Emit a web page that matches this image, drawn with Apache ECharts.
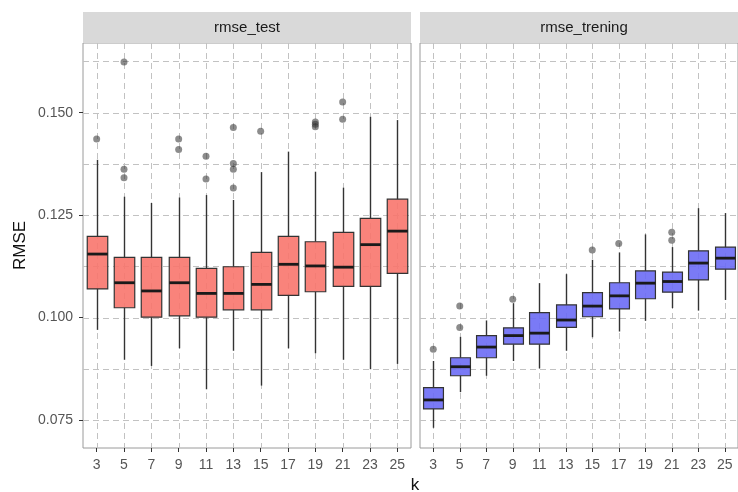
<!DOCTYPE html>
<html>
<head>
<meta charset="utf-8">
<script src="https://cdn.jsdelivr.net/npm/echarts@6/dist/echarts.min.js"></script>
<style>html,body{margin:0;padding:0;background:#fff;}#chart{width:738px;height:492px;}</style>
</head>
<body>
<div id="chart"></div>
<script>
// ---- data ----
const kLabels = ['3','5','7','9','11','13','15','17','19','21','23','25'];
const panelNames = ['rmse_test', 'rmse_trening'];
const yTicks = [0.075, 0.100, 0.125, 0.150];
const yMinorGrid = [0.0875, 0.1125, 0.1375, 0.1625];

const testMin    = [0.0970, 0.0897, 0.0882, 0.0925, 0.0825, 0.0919, 0.0834, 0.0925, 0.0913, 0.0897, 0.0874, 0.0887];
const testQ1     = [0.1070, 0.1024, 0.1001, 0.1004, 0.1001, 0.1019, 0.1019, 0.1054, 0.1063, 0.1076, 0.1076, 0.1108];
const testMedian = [0.1155, 0.1085, 0.1065, 0.1085, 0.1059, 0.1059, 0.1081, 0.1130, 0.1126, 0.1123, 0.1178, 0.1211];
const testQ3     = [0.1198, 0.1147, 0.1147, 0.1147, 0.1120, 0.1124, 0.1159, 0.1198, 0.1185, 0.1208, 0.1242, 0.1289];
const testMax    = [0.1385, 0.1295, 0.1280, 0.1293, 0.1299, 0.1287, 0.1355, 0.1405, 0.1356, 0.1317, 0.1490, 0.1482];
const testOutliers = [
  ['3', 0.1436],
  ['5', 0.1624], ['5', 0.1362], ['5', 0.1341],
  ['9', 0.1436], ['9', 0.1410],
  ['11', 0.1394], ['11', 0.1338],
  ['13', 0.1464], ['13', 0.1376], ['13', 0.1362], ['13', 0.1316],
  ['15', 0.1455],
  ['19', 0.1477], ['19', 0.1472], ['19', 0.1466],
  ['21', 0.1526], ['21', 0.1484]
];

const trenMin    = [0.0731, 0.0818, 0.0858, 0.0894, 0.0876, 0.0919, 0.0952, 0.0966, 0.0992, 0.1023, 0.1017, 0.1043];
const trenQ1     = [0.0777, 0.0858, 0.0902, 0.0935, 0.0935, 0.0976, 0.1002, 0.1021, 0.1046, 0.1062, 0.1092, 0.1118];
const trenMedian = [0.0799, 0.0880, 0.0928, 0.0956, 0.0962, 0.0994, 0.1028, 0.1053, 0.1084, 0.1088, 0.1133, 0.1145];
const trenQ3     = [0.0829, 0.0902, 0.0956, 0.0975, 0.1012, 0.1031, 0.1061, 0.1085, 0.1114, 0.1111, 0.1163, 0.1172];
const trenMax    = [0.0894, 0.0953, 0.0993, 0.1035, 0.1084, 0.1106, 0.1141, 0.1159, 0.1203, 0.1172, 0.1267, 0.1255];
const trenOutliers = [
  ['3', 0.0923],
  ['5', 0.0976], ['5', 0.1028],
  ['9', 0.1045],
  ['15', 0.1165],
  ['17', 0.1181],
  ['21', 0.1208], ['21', 0.1189]
];

// ---- chart ----
const Y_MIN = 0.06817, Y_MAX = 0.16701;
const FONT = '"Liberation Sans", Arial, sans-serif';
const chart = echarts.init(document.getElementById('chart'), null, {renderer: 'canvas'});

function boxData(mn, q1, md, q3, mx) {
  return kLabels.map((k, i) => [i, mn[i], q1[i], md[i], q3[i], mx[i]]);
}
function makeRender(fill) {
  return function (params, api) {
    const i = api.value(0);
    const pMin = api.coord([i, api.value(1)]);
    const pQ1 = api.coord([i, api.value(2)]);
    const pMed = api.coord([i, api.value(3)]);
    const pQ3 = api.coord([i, api.value(4)]);
    const pMax = api.coord([i, api.value(5)]);
    const bw = api.size([1, 0])[0] * 0.75;
    const x = Math.round(pMed[0]) + 0.5;
    const ws = {stroke: '#333333', lineWidth: 1.4, fill: null};
    return {
      type: 'group',
      children: [
        {type: 'line', shape: {x1: x, y1: pMax[1], x2: x, y2: pQ3[1]}, style: ws},
        {type: 'line', shape: {x1: x, y1: pQ1[1], x2: x, y2: pMin[1]}, style: ws},
        {type: 'rect', shape: {x: x - bw / 2, y: pQ3[1], width: bw, height: pQ1[1] - pQ3[1]},
          style: {fill: fill, stroke: '#333333', lineWidth: 1.2}},
        {type: 'line', shape: {x1: x - bw / 2, y1: pMed[1], x2: x + bw / 2, y2: pMed[1]},
          style: {stroke: '#1a1a1a', lineWidth: 2.8, fill: null}}
      ]
    };
  };
}
// panel grid lines (major + minor horizontal, one vertical per category), drawn via the axes' scales
function renderGrid(params, api) {
  const cs = params.coordSys;
  const children = [];
  const st = {stroke: '#c2c2c2', lineWidth: 1, lineDash: [6, 4], fill: null};
  yTicks.concat(yMinorGrid).forEach(v => {
    const y = Math.round(api.coord([0, v])[1]) + 0.5;
    children.push({type: 'line', shape: {x1: cs.x, y1: y, x2: cs.x + cs.width, y2: y}, style: st});
  });
  kLabels.forEach((k, i) => {
    const x = Math.round(api.coord([i, Y_MIN])[0]) + 0.5;
    children.push({type: 'line', shape: {x1: x, y1: cs.y, x2: x, y2: cs.y + cs.height}, style: st});
  });
  return {type: 'group', children: children};
}

const grids = [
  {left: 83, top: 43, width: 328, height: 405, show: true, borderColor: '#9a9a9a', borderWidth: 1, backgroundColor: '#fff'},
  {left: 420, top: 43, width: 328, height: 405, show: true, borderColor: '#9a9a9a', borderWidth: 1, backgroundColor: '#fff'}
];

function xAxisFor(gi) {
  return {
    type: 'category', gridIndex: gi, data: kLabels, boundaryGap: true,
    axisLine: {show: false},
    axisTick: {show: true, alignWithLabel: true, length: 4, lineStyle: {color: '#333333'}},
    axisLabel: {color: '#555555', fontSize: 14, fontFamily: FONT, margin: 10, interval: 0},
    splitLine: {show: false}
  };
}
const yAxes = [
  {
    type: 'value', gridIndex: 0, min: Y_MIN, max: Y_MAX,
    name: 'RMSE', nameLocation: 'middle', nameGap: 54,
    nameTextStyle: {color: '#111', fontSize: 17, fontFamily: FONT},
    axisLine: {show: false},
    axisTick: {show: true, length: 4, lineStyle: {color: '#333333'}, customValues: yTicks},
    axisLabel: {color: '#555555', fontSize: 14, fontFamily: FONT, margin: 10,
      customValues: yTicks, formatter: v => Number(v).toFixed(3)},
    splitLine: {show: false}, minorSplitLine: {show: false}
  },
  {
    type: 'value', gridIndex: 1, min: Y_MIN, max: Y_MAX,
    axisLine: {show: false}, axisTick: {show: false}, axisLabel: {show: false},
    splitLine: {show: false}, minorSplitLine: {show: false}
  }
];

const series = [
  {type: 'custom', xAxisIndex: 0, yAxisIndex: 0, z: 1, silent: true, renderItem: renderGrid,
    encode: {x: 0, y: 1}, data: [[0, Y_MIN]]},
  {type: 'custom', xAxisIndex: 1, yAxisIndex: 1, z: 1, silent: true, renderItem: renderGrid,
    encode: {x: 0, y: 1}, data: [[0, Y_MIN]]},
  {type: 'custom', name: panelNames[0], xAxisIndex: 0, yAxisIndex: 0, z: 3,
    renderItem: makeRender('rgba(248,118,109,0.9)'),
    encode: {x: 0, y: [1, 2, 3, 4, 5]},
    data: boxData(testMin, testQ1, testMedian, testQ3, testMax)},
  {type: 'custom', name: panelNames[1], xAxisIndex: 1, yAxisIndex: 1, z: 3,
    renderItem: makeRender('rgba(108,108,245,0.9)'),
    encode: {x: 0, y: [1, 2, 3, 4, 5]},
    data: boxData(trenMin, trenQ1, trenMedian, trenQ3, trenMax)},
  {type: 'scatter', xAxisIndex: 0, yAxisIndex: 0, z: 4, symbolSize: 7,
    itemStyle: {color: 'rgba(50,50,50,0.7)'}, data: testOutliers},
  {type: 'scatter', xAxisIndex: 1, yAxisIndex: 1, z: 4, symbolSize: 7,
    itemStyle: {color: 'rgba(50,50,50,0.7)'}, data: trenOutliers}
];

const graphic = [
  {type: 'rect', left: 83, top: 12, shape: {width: 328, height: 31}, style: {fill: '#d9d9d9'}, silent: true},
  {type: 'rect', left: 420, top: 12, shape: {width: 328, height: 31}, style: {fill: '#d9d9d9'}, silent: true},
  {type: 'text', x: 247, y: 28, style: {text: panelNames[0], fill: '#1a1a1a', font: '15px ' + FONT, textAlign: 'center', textVerticalAlign: 'middle'}},
  {type: 'text', x: 584, y: 28, style: {text: panelNames[1], fill: '#1a1a1a', font: '15px ' + FONT, textAlign: 'center', textVerticalAlign: 'middle'}},
  {type: 'text', x: 415, y: 485, style: {text: 'k', fill: '#111', font: '17px ' + FONT, textAlign: 'center', textVerticalAlign: 'middle'}}
];

chart.setOption({
  animation: false,
  backgroundColor: '#ffffff',
  grid: grids,
  xAxis: [xAxisFor(0), xAxisFor(1)],
  yAxis: yAxes,
  series: series,
  graphic: graphic
});
</script>
</body>
</html>
